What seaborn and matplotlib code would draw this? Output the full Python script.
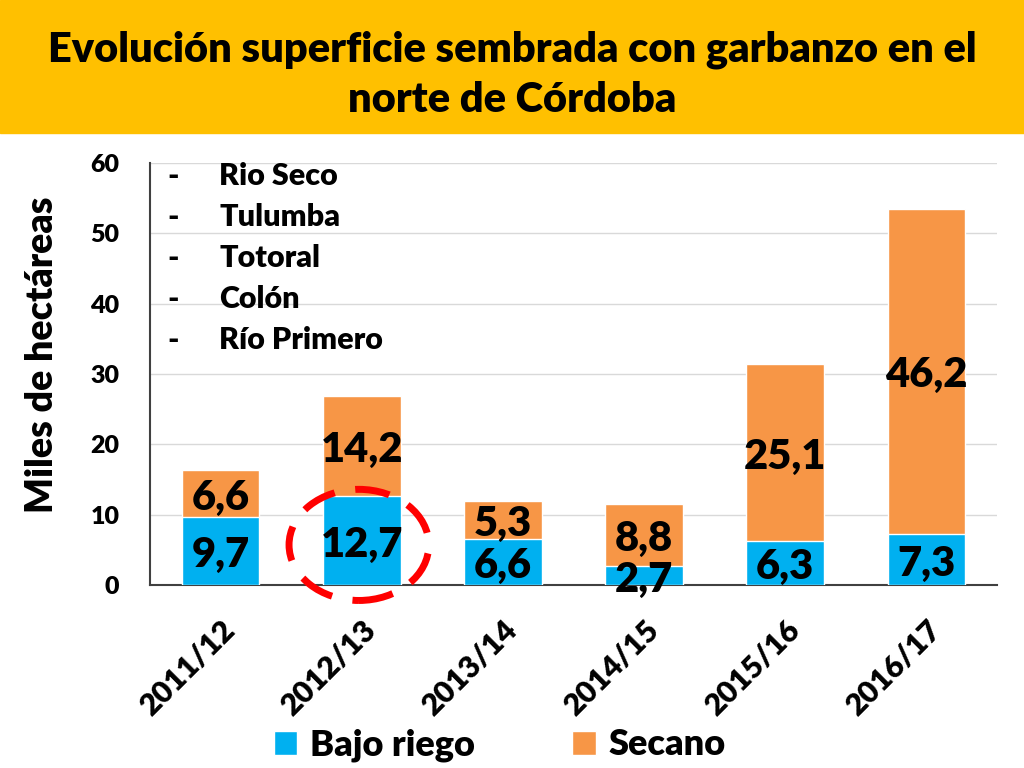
import matplotlib
matplotlib.use("Agg")
import matplotlib.pyplot as plt
from matplotlib.patches import Rectangle, Ellipse, Patch
import seaborn as sns
import pandas as pd

campanias = ["2011/12", "2012/13", "2013/14", "2014/15", "2015/16", "2016/17"]
bajo_riego = [9.7, 12.7, 6.6, 2.7, 6.3, 7.3]
secano = [6.6, 14.2, 5.3, 8.8, 25.1, 46.2]
departamentos = ["Rio Seco", "Tulumba", "Totoral", "Colón", "Río Primero"]

azul = "#00B0F0"
naranja = "#F79646"

df = pd.DataFrame({"campania": campanias, "riego": bajo_riego, "secano": secano})
df["total"] = df["riego"] + df["secano"]

sns.set_style("white")
plt.rcParams["font.family"] = ["Lato", "DejaVu Sans"]
plt.rcParams["font.weight"] = "heavy"
plt.rcParams["text.color"] = "black"
plt.rcParams["axes.labelcolor"] = "black"
plt.rcParams["xtick.color"] = "black"
plt.rcParams["ytick.color"] = "black"

W = "heavy"

fig = plt.figure(figsize=(10.24, 7.68), dpi=100)

# title banner
fig.patches.append(Rectangle((0, 1 - 133 / 768), 1, 133 / 768, transform=fig.transFigure,
                             color="#FFC000", zorder=0))
fig.text(0.5, 1 - 75 / 768, "Evolución superficie sembrada con garbanzo en el\nnorte de Córdoba",
         ha="center", va="center", fontsize=30, fontweight=W, linespacing=1.4)

ax = fig.add_axes([150 / 1024, 1 - 585 / 768, 847 / 1024, 422 / 768])
sns.barplot(data=df, x="campania", y="total", color=naranja, saturation=1, width=0.55,
            ax=ax, zorder=2)
sns.barplot(data=df, x="campania", y="riego", color=azul, saturation=1, width=0.55,
            ax=ax, zorder=3)

ax.set_ylim(0, 60)
ax.set_yticks(range(0, 61, 10))
ax.grid(axis="y", color="#D9D9D9", lw=1, zorder=0)
ax.set_axisbelow(True)
for s in ["top", "right"]:
    ax.spines[s].set_visible(False)
ax.spines["left"].set_color("#404040")
ax.spines["bottom"].set_color("#404040")
ax.spines["left"].set_linewidth(1.5)
ax.spines["bottom"].set_linewidth(1.5)
ax.tick_params(axis="both", length=0)
ax.tick_params(axis="y", labelsize=18, pad=22)
ax.tick_params(axis="x", labelsize=22, pad=22)
for lbl in ax.get_xticklabels():
    lbl.set_rotation(45)
    lbl.set_ha("right")
    lbl.set_rotation_mode("anchor")
    lbl.set_fontweight(W)
for lbl in ax.get_yticklabels():
    lbl.set_fontweight(W)
ax.set_xlabel("")
ax.set_ylabel("Miles de hectáreas", fontsize=27, fontweight=W)
ax.yaxis.set_label_coords(-0.108, 0.545)

# data labels
for i, (r, s) in enumerate(zip(bajo_riego, secano)):
    ax.text(i, r / 2 - 0.6, f"{r:.1f}".replace(".", ","), ha="center", va="center",
            fontsize=30, fontweight=W, zorder=5)
    ax.text(i, r + s / 2 - 0.6, f"{s:.1f}".replace(".", ","), ha="center", va="center",
            fontsize=30, fontweight=W, zorder=5)

# list of departments
for k, d in enumerate(departamentos):
    y = 1 - (176 + k * 41) / 768
    fig.text(167 / 1024, y, "-", ha="left", va="center", fontsize=22, fontweight=W)
    fig.text(219 / 1024, y, d, ha="left", va="center", fontsize=22, fontweight=W)

# red dashed highlight
ax.add_patch(Ellipse((0.98, 5.7), 0.99, 15.8, fill=False, edgecolor="#FF0000", lw=5,
                     linestyle=(0, (5, 3)), clip_on=False, zorder=6))

handles = [Patch(facecolor=azul, label="Bajo riego"), Patch(facecolor=naranja, label="Secano")]
fig.legend(handles=handles, loc="center", bbox_to_anchor=(0.488, 1 - 745 / 768), ncol=2,
           frameon=False, handlelength=0.65, handleheight=0.65,
           handletextpad=0.35, columnspacing=2.7, prop={"weight": W, "size": 26})

fig.savefig("out.png", dpi=100)
